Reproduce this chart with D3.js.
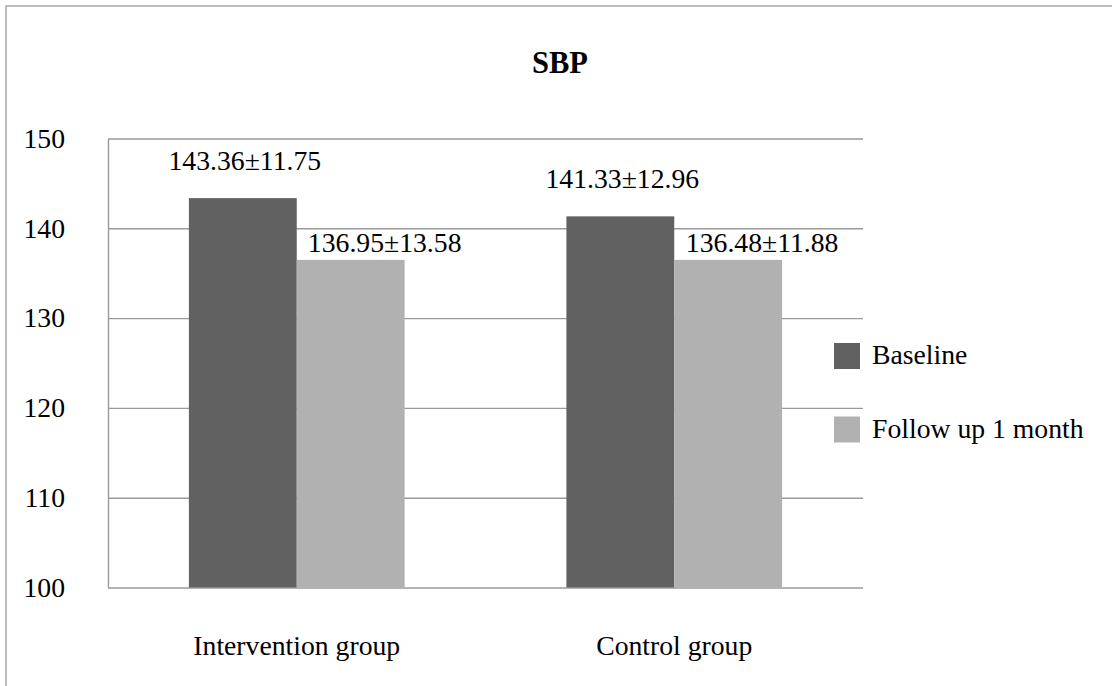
<!DOCTYPE html>
<html>
<head>
<meta charset="utf-8">
<script src="https://cdn.jsdelivr.net/npm/d3@7"></script>
<style>
  html, body { margin: 0; padding: 0; background: #fff; }
  svg { display: block; }
  text { font-family: "Liberation Serif", "Times New Roman", serif; fill: #000; }
</style>
</head>
<body>
<svg id="chart" width="1112" height="686"></svg>
<script>
// ---- data ----
const categories = ["Intervention group", "Control group"];
const seriesNames = ["Baseline", "Follow up 1 month"];
const baselineValues = [143.36, 141.33];
const followUpValues = [136.48, 136.48];
const baselineLabels = ["143.36±11.75", "141.33±12.96"];
const followUpLabels = ["136.95±13.58", "136.48±11.88"];
const yTicks = [100, 110, 120, 130, 140, 150];
const title = "SBP";

// ---- layout ----
const W = 1112, H = 686;
const plot = { left: 108, right: 863, top: 138.5, bottom: 587.5 };
const colors = ["#616161", "#b1b1b1"];
const fontSize = 27.7;
const gridColor = "#9a9a9a";

const svg = d3.select("#chart");

// outer border
svg.append("rect")
  .attr("x", 6).attr("y", 6).attr("width", W + 20).attr("height", H + 20)
  .attr("fill", "none").attr("stroke", "#a8a8a8").attr("stroke-width", 1.5);

// title
svg.append("text")
  .attr("x", 560).attr("y", 73)
  .attr("text-anchor", "middle")
  .style("font-size", "30.5px").style("font-weight", "bold")
  .text(title);

const y = d3.scaleLinear().domain([100, 150]).range([plot.bottom, plot.top]);
const x0 = d3.scaleBand().domain(categories).range([plot.left, plot.right]).padding(0);
const x1 = d3.scaleBand().domain(seriesNames).range([0, x0.bandwidth()])
  .paddingInner(0).paddingOuter(0.75);

// y axis with gridlines
const yAxis = d3.axisLeft(y).tickValues(yTicks).tickFormat(d3.format("d"))
  .tickSizeInner(-(plot.right - plot.left)).tickSizeOuter(0).tickPadding(43);
const gy = svg.append("g").attr("transform", `translate(${plot.left},0)`).call(yAxis);
gy.selectAll(".tick line").attr("stroke", gridColor).attr("stroke-width", 1.4);
gy.select(".domain").attr("stroke", gridColor).attr("stroke-width", 1.4);
gy.selectAll(".tick text").style("font-size", fontSize + "px")
  .style("font-family", '"Liberation Serif", "Times New Roman", serif').attr("fill", "#000");

// bars
const rows = categories.map((c, i) => ({
  cat: c,
  vals: [
    { s: seriesNames[0], v: baselineValues[i], label: baselineLabels[i], k: 0 },
    { s: seriesNames[1], v: followUpValues[i], label: followUpLabels[i], k: 1 }
  ]
}));

const groups = svg.append("g").selectAll("g").data(rows).join("g")
  .attr("transform", d => `translate(${x0(d.cat)},0)`);

groups.selectAll("rect").data(d => d.vals).join("rect")
  .attr("x", d => x1(d.s))
  .attr("y", d => y(d.v))
  .attr("width", x1.bandwidth())
  .attr("height", d => y(100) - y(d.v))
  .attr("fill", d => colors[d.k]);

// data labels
const labelOffsetY = [28, 8];
const labelOffsetX = [2, 34];
groups.selectAll("text.lbl").data(d => d.vals).join("text")
  .attr("class", "lbl")
  .attr("x", d => x1(d.s) + x1.bandwidth() / 2 + labelOffsetX[d.k])
  .attr("y", d => y(d.v) - labelOffsetY[d.k])
  .attr("text-anchor", "middle")
  .style("font-size", fontSize + "px")
  .text(d => d.label);

// x axis labels
const xAxis = d3.axisBottom(x0).tickSize(0).tickPadding(48);
const gx = svg.append("g").attr("transform", `translate(0,${plot.bottom})`).call(xAxis);
gx.select(".domain").remove();
gx.selectAll(".tick text").style("font-size", fontSize + "px")
  .style("font-family", '"Liberation Serif", "Times New Roman", serif').attr("fill", "#000");

// legend
const legend = svg.append("g").selectAll("g").data(seriesNames).join("g")
  .attr("transform", (d, i) => `translate(834,${343 + i * 73.5})`);
legend.append("rect").attr("width", 26).attr("height", 26)
  .attr("fill", (d, i) => colors[i]);
legend.append("text").attr("x", 38).attr("y", 21)
  .style("font-size", fontSize + "px")
  .text(d => d);
</script>
</body>
</html>
